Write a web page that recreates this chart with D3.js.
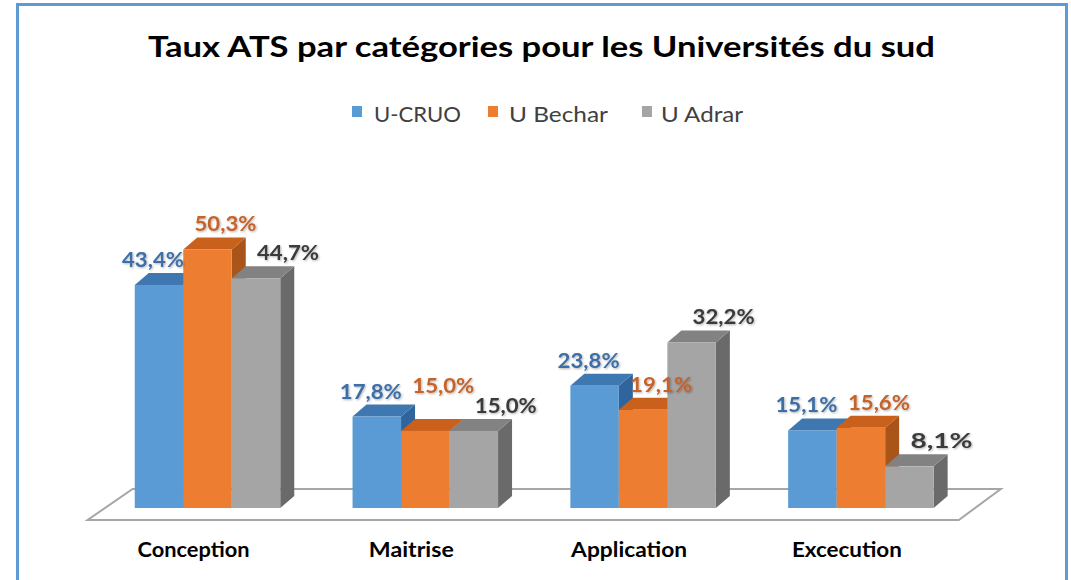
<!DOCTYPE html>
<html><head><meta charset="utf-8">
<script src="https://cdn.jsdelivr.net/npm/d3@7"></script>
<style>html,body{margin:0;padding:0;background:#fff;}svg{display:block;}</style>
</head><body>
<script>
const categories = ["Conception", "Maitrise", "Application", "Excecution"];
const seriesNames = ["U-CRUO", "U Bechar", "U Adrar"];
const cruo = [43.4, 17.8, 23.8, 15.1];
const bechar = [50.3, 15.0, 19.1, 15.6];
const adrar = [44.7, 15.0, 32.2, 8.1];
const titleText = "Taux ATS par catégories pour les Universités du sud";

const W = 1071, H = 580;
const seriesValues = [cruo, bechar, adrar];
const colors = {
  front: ["#5B9BD5", "#ED7D31", "#A5A5A5"],
  top:   ["#3F77B0", "#C9601C", "#828282"],
  side:  ["#2F659C", "#A9551A", "#6A6A6A"],
  label: ["#3D6EA6", "#C4632B", "#3A3A3A"]
};
const labelDx = [-6, 18, 32];
const fmt = d3.formatLocale({decimal: ",", thousands: " ", grouping: [3], currency: ["", "€"]}).format(".1f");

const svg = d3.select("body").append("svg").attr("width", W).attr("height", H)
  .style("font-family", "Lato, 'Open Sans', sans-serif");

const defs = svg.append("defs");
const f = defs.append("filter").attr("id", "sh").attr("x", "-20%").attr("y", "-30%").attr("width", "140%").attr("height", "160%");
f.append("feDropShadow").attr("dx", 1).attr("dy", 1).attr("stdDeviation", 1).attr("flood-color", "#000").attr("flood-opacity", 0.3);

// border
svg.append("rect").attr("x", 17.5).attr("y", 4.5).attr("width", 1049).attr("height", 620)
  .attr("fill", "#fff").attr("stroke", "#5F9BD3").attr("stroke-width", 3);

// title
svg.append("text").attr("x", 541.5).attr("y", 57).attr("text-anchor", "middle")
  .attr("font-size", 29).attr("font-weight", 700).attr("fill", "#000")
  .attr("textLength", 787).attr("lengthAdjust", "spacingAndGlyphs").text(titleText);

// legend
const legendItems = [
  {sx: 352, tx: 374, tw: 87},
  {sx: 488, tx: 509, tw: 99},
  {sx: 642, tx: 661, tw: 82}
];
seriesNames.forEach((name, i) => {
  const g = svg.append("g");
  g.append("rect").attr("x", legendItems[i].sx).attr("y", 106).attr("width", 10).attr("height", 11).attr("fill", colors.front[i]);
  g.append("text").attr("x", legendItems[i].tx).attr("y", 122).attr("font-size", 22).attr("fill", "#404040")
    .attr("textLength", legendItems[i].tw).attr("lengthAdjust", "spacingAndGlyphs").text(name);
});

// scales
const x0 = d3.scaleBand().domain(categories).range([98.6, 969.8]).padding(0);
const groupW = 145.5;
const x1 = d3.scaleBand().domain(seriesNames).range([0, groupW]).padding(0);
const y = d3.scaleLinear().domain([0, 50]).range([508, 251]);
const dx = 14, dy = -12;

// floor
const [r0, r1] = x0.range();
const floorFrontY = 520, floorBackY = 489;
svg.append("path")
  .attr("d", `M${r0 - 11},${floorFrontY} L${r1 - 11},${floorFrontY} L${r1 + 31},${floorBackY} L${r0 + 34},${floorBackY} Z`)
  .attr("fill", "#fff").attr("stroke", "#A6A6A6").attr("stroke-width", 2);

// bars
const barsG = svg.append("g");
categories.forEach((c, ci) => {
  seriesNames.forEach((s, si) => {
    const v = seriesValues[si][ci];
    const xl = x0(c) + (x0.bandwidth() - groupW) / 2 + x1(s);
    const xr = xl + x1.bandwidth();
    const yt = y(v), yb = y(0);
    const g = barsG.append("g");
    g.append("path").attr("d", `M${xr},${yt} L${xr + dx},${yt + dy} L${xr + dx},${yb + dy} L${xr},${yb} Z`).attr("fill", colors.side[si]);
    g.append("path").attr("d", `M${xl},${yt} L${xl + dx},${yt + dy} L${xr + dx},${yt + dy} L${xr},${yt} Z`).attr("fill", colors.top[si]);
    g.append("rect").attr("x", xl).attr("y", yt).attr("width", xr - xl).attr("height", yb - yt).attr("fill", colors.front[si]);
  });
});

// data labels with simple collision avoidance (processed right to left within each group)
const labelsG = svg.append("g");
const LW = 62, LH = 18;
categories.forEach((c, ci) => {
  const placed = [];
  for (let si = seriesNames.length - 1; si >= 0; si--) {
    const s = seriesNames[si];
    const v = seriesValues[si][ci];
    const cx = x0(c) + (x0.bandwidth() - groupW) / 2 + x1(s) + x1.bandwidth() / 2 + labelDx[si];
    let by = y(v) - 18;
    let moved = true;
    while (moved) {
      moved = false;
      for (const p of placed) {
        const overlapX = Math.abs(p.cx - cx) < LW + 4;
        const overlapY = Math.abs(p.by - by) < LH;
        if (overlapX && overlapY) { by = p.by - LH - 2; moved = true; }
      }
    }
    placed.push({cx, by});
    labelsG.append("text").attr("x", cx).attr("y", by)
      .attr("text-anchor", "middle").attr("font-size", 20).attr("font-weight", 700)
      .attr("fill", colors.label[si]).attr("filter", "url(#sh)")
      .attr("textLength", LW).attr("lengthAdjust", "spacingAndGlyphs")
      .text(fmt(v) + "%");
  }
});

// category labels
const catW = [112, 85, 116, 110];
categories.forEach((c, ci) => {
  svg.append("text").attr("x", x0(c) + x0.bandwidth() / 2 - 14).attr("y", 557)
    .attr("text-anchor", "middle").attr("font-size", 20).attr("font-weight", 700).attr("fill", "#000")
    .attr("textLength", catW[ci]).attr("lengthAdjust", "spacingAndGlyphs").text(c);
});
</script>
</body></html>
